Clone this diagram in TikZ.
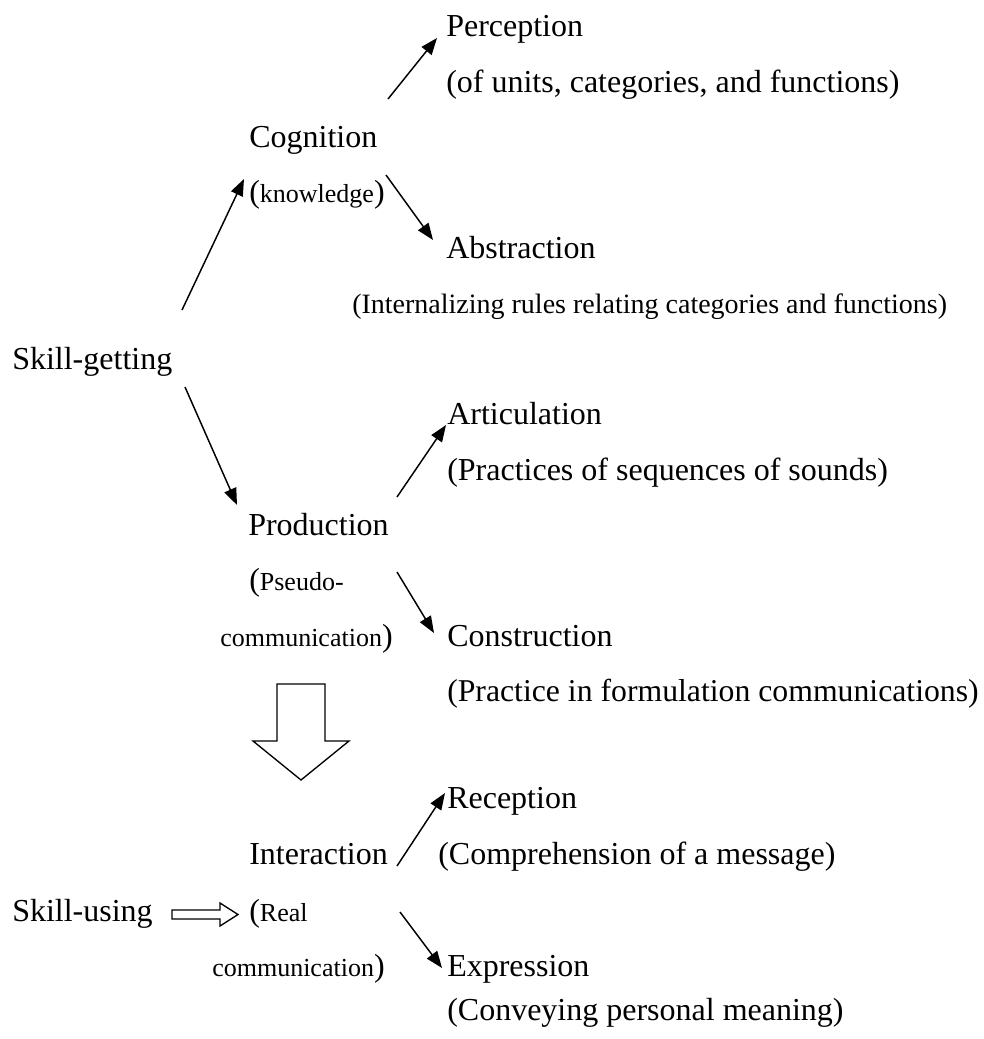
\documentclass[tikz,border=0pt]{standalone}
\usepackage{fontspec}
\setmainfont{Liberation Serif}
\usepackage{tikz}
\usetikzlibrary{arrows.meta, calc}

\newcommand{\smtext}[1]{{\fontsize{19.5}{23}\selectfont #1}}

\begin{document}
\begin{tikzpicture}[
  x=0.75pt, y=-0.75pt,
  txt/.style={anchor=base west, inner sep=0pt, font=\fontsize{24}{28}\selectfont},
  arrow/.style={-{Triangle[length=12.5pt, width=9.5pt]}, line width=1.1pt},
  hollow/.style={draw, line width=1pt, fill=white, line join=miter}
]
\useasboundingbox (0,0) rectangle (983,1039);

\node[txt] (perc) at (446,36) {Perception};
\node[txt] (percnote) at (446,92) {(of units, categories, and functions)};
\node[txt] (cog) at (249,147) {Cognition};
\node[txt] (cognote) at (249,202) {(\smtext{knowledge})};
\node[txt] (abs) at (446,258) {Abstraction};
\node[txt, font=\fontsize{21}{25}\selectfont] (absnote) at (352,313)
  {(Internalizing rules relating categories and functions)};
\node[txt] (sg) at (12,369) {Skill-getting};
\node[txt] (art) at (447,424) {Articulation};
\node[txt] (artnote) at (447,480) {(Practices of sequences of sounds)};
\node[txt] (prod) at (248,535) {Production};
\node[txt] (prodnote) at (249,590) {(\smtext{Pseudo-}};
\node[txt] (prodnote2) at (220,646) {\smtext{communication})};
\node[txt] (cons) at (447,646) {Construction};
\node[txt, font=\fontsize{23.8}{28}\selectfont] (consnote) at (447,701)
  {(Practice in formulation communications)};
\node[txt] (rec) at (447,808) {Reception};
\node[txt] (recnote) at (438,864) {(Comprehension of a message)};
\node[txt] (inter) at (249,864) {Interaction};
\node[txt] (su) at (12,921) {Skill-using};
\node[txt] (internote) at (249,921) {(\smtext{Real}};
\node[txt] (internote2) at (212,976) {\smtext{communication})};
\node[txt] (exp) at (447,976) {Expression};
\node[txt] (expnote) at (447,1020) {(Conveying personal meaning)};

\draw[arrow] ($(sg.base west)+(170,-59)$) -- ($(cog.base west)+(-5,32)$);
\draw[arrow] ($(cog.base west)+(139,-48)$) -- ($(perc.base west)+(-9,2)$);
\draw[arrow] ($(cog.base west)+(137,28)$) -- ($(abs.base west)+(-13,-18)$);
\draw[arrow] ($(sg.base west)+(173,18)$) -- ($(prod.base west)+(-11,-30)$);
\draw[arrow] ($(prod.base west)+(149,-38)$) -- ($(art.base west)+(-1,1)$);
\draw[arrow] ($(prod.base west)+(149,37)$) -- ($(cons.base west)+(-13,-13)$);
\draw[arrow] ($(inter.base west)+(148,2)$) -- ($(rec.base west)+(-2,-15)$);
\draw[arrow] ($(inter.base west)+(151,48)$) -- ($(exp.base west)+(-5,-8)$);

% block arrows
\draw[hollow] (277,684) -- (325,684) -- (325,741) -- (349,741) -- (301,780)
  -- (253,741) -- (277,741) -- cycle;
\draw[hollow] (172,910) -- (220,910) -- (220,903) -- (238,914.5) -- (220,926)
  -- (220,919) -- (172,919) -- cycle;
\end{tikzpicture}
\end{document}
